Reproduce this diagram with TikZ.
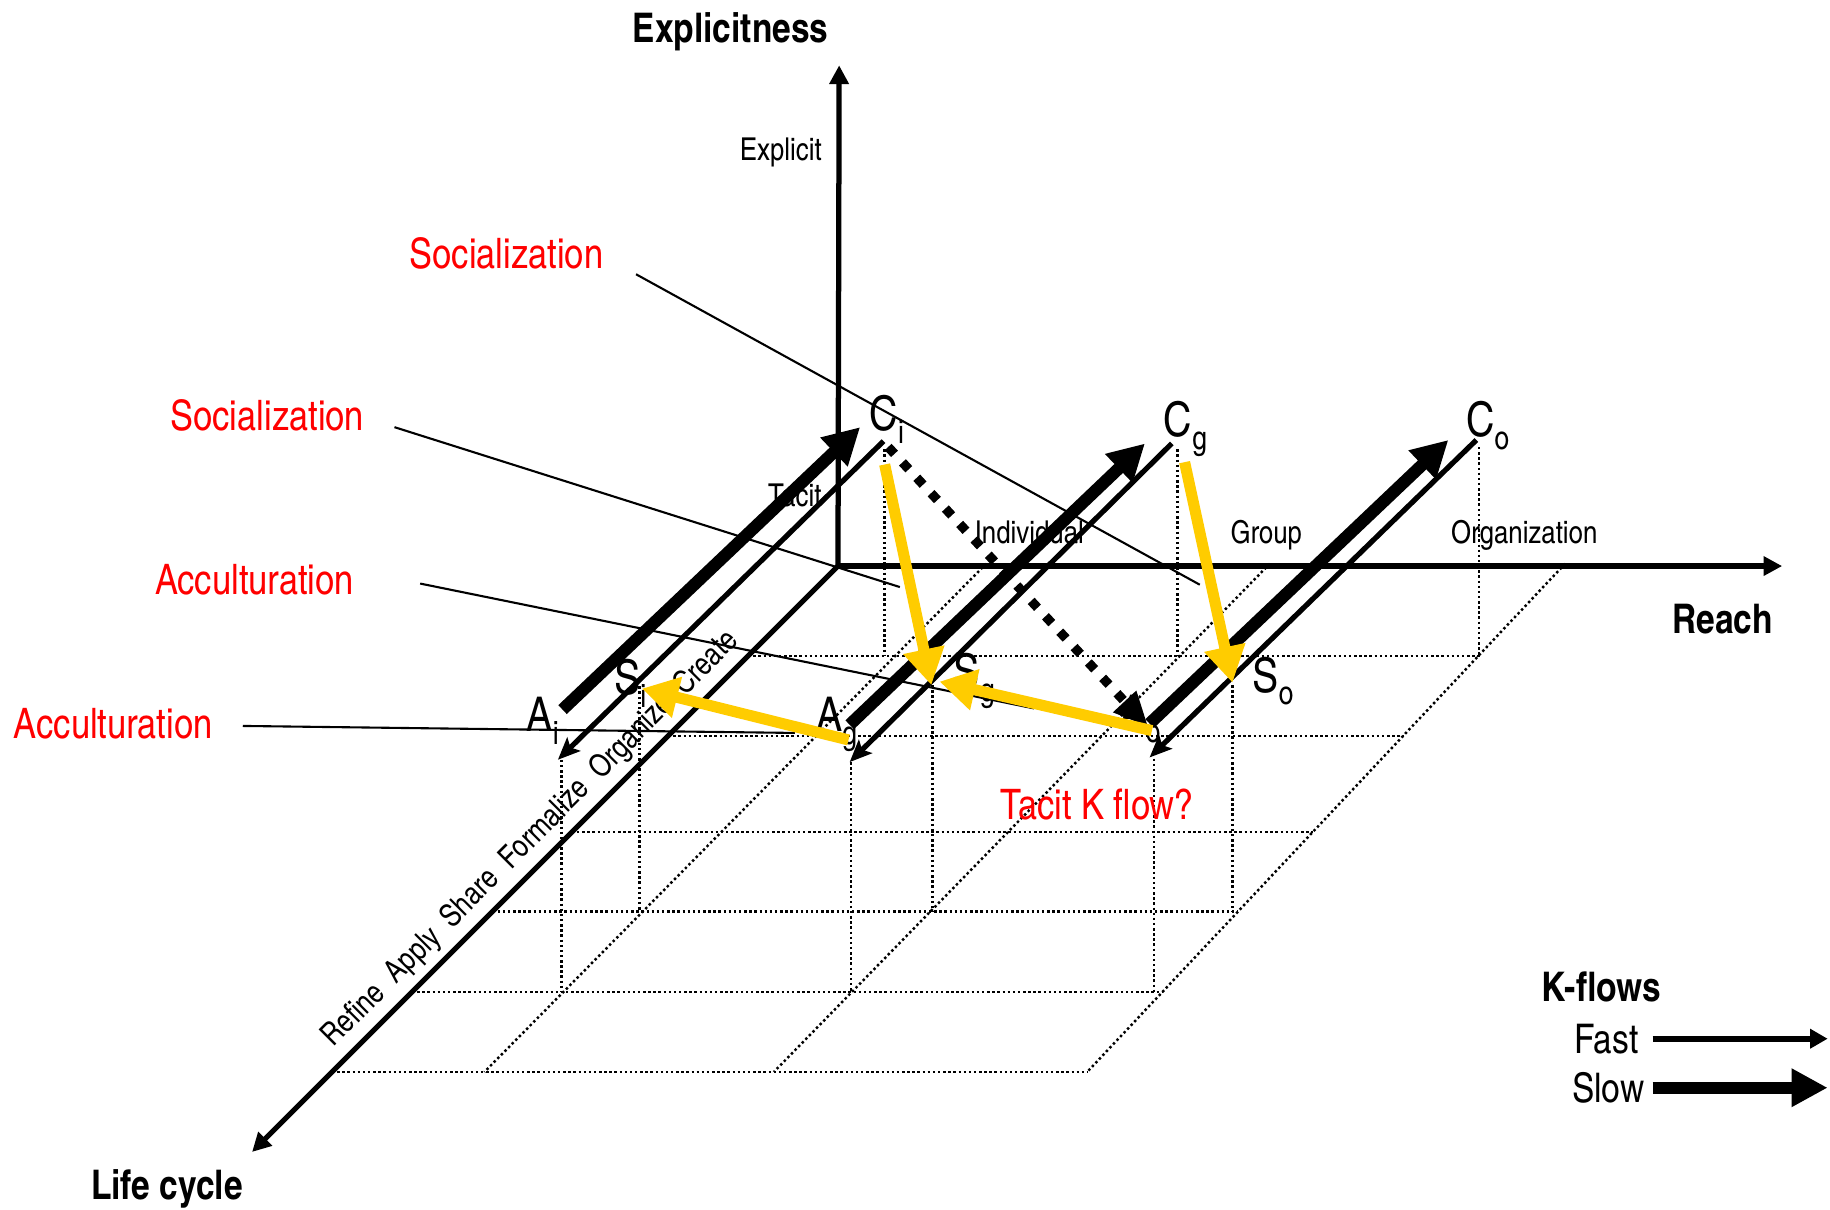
\documentclass[tikz,border=0pt]{standalone}
\usepackage{fontspec}
\setmainfont{texgyreheroscn}[Extension=.otf,UprightFont=*-regular,BoldFont=*-bold]
\usetikzlibrary{arrows.meta}
\definecolor{kred}{RGB}{255,0,0}
\definecolor{kyellow}{RGB}{255,204,0}
\newcommand{\kfsub}[2]{#1\raisebox{-11pt}{\fontsize{28}{28}\selectfont #2}}
\begin{document}
\begin{tikzpicture}[x=1pt,y=-1pt,
  gridline/.style={line width=2.1pt, dash pattern=on 2.1pt off 2.3pt},
  axisline/.style={line width=4.5pt, -{Triangle[length=16pt,width=16pt]}},
  slowarrow/.style={line width=10.5pt, -{Triangle[length=31pt,width=32pt]}},
  fastarrow/.style={line width=4.5pt, -{Stealth[length=19pt,width=16pt,inset=4pt]}},
  yelarrow/.style={draw=kyellow, line width=9.5pt, -{Triangle[length=31pt,width=34pt,fill=kyellow]}},
  dotarrow/.style={line width=8pt, dash pattern=on 8pt off 10pt, -{Triangle[length=30pt,width=25pt]}},
  leader/.style={line width=1.8pt},
  boldlbl/.style={font=\fontsize{35}{40}\selectfont\bfseries, inner sep=0pt, text height=25pt, text depth=0pt},
  axlbl/.style={font=\fontsize{27}{30}\selectfont, inner sep=0pt, text height=19.5pt, text depth=0pt},
  redlbl/.style={font=\fontsize{36}{40}\selectfont, text=kred, inner sep=0pt, text height=26pt, text depth=0pt},
  leglbl/.style={font=\fontsize{35}{40}\selectfont, inner sep=0pt, text height=25pt, text depth=0pt},
  ptlbl/.style={font=\fontsize{41}{44}\selectfont, inner sep=0pt, anchor=base west}
]
\useasboundingbox[fill=white] (0,0) rectangle (1568,1036);

% ---------- floor grid ----------
\foreach \yy/\xr [count=\k] in {562/1268, 630.5/1203, 713/1125, 781/1061, 850/996, 918.5/931.5}{
  \coordinate (rowL\k) at ({718-(\yy-485)},\yy);
  \coordinate (rowR\k) at (\xr,\yy);
  \draw[gridline] (rowL\k) -- (rowR\k);
}
\coordinate (d1a) at (845,483);  \coordinate (d1b) at (415,918.5);
\coordinate (d2a) at (1088,483); \coordinate (d2b) at (663,918.5);
\coordinate (d3a) at (1341,483); \coordinate (d3b) at (931.5,918.5);
\draw[gridline] (d1a) -- (d1b);
\draw[gridline] (d2a) -- (d2b);
\draw[gridline] (d3a) -- (d3b);
% vertical drop lines
\foreach \xx/\ya/\yb [count=\k] in {758/385/562, 1009/385/562, 1267/383/562,
   548/588/781, 799/587/781, 1056/587/781,
   481/651/850, 729/653/850, 989/650/850}{
  \coordinate (vt\k) at (\xx,\ya);
  \coordinate (vb\k) at (\xx,\yb);
  \draw[gridline] (vt\k) -- (vb\k);
}

% ---------- texts ----------
\node[boldlbl] (tExpl) at (626,24) {Explicitness};
\node[axlbl] (tExplicit) at (669,128) {Explicit};
\node[axlbl] (tTacit) at (681,424) {Tacit};
\node[axlbl] (tInd) at (882,456) {Individual};
\node[axlbl] (tGrp) at (1085,456) {Group};
\node[axlbl] (tOrg) at (1306,456) {Organization};
\node[boldlbl] (tReach) at (1476,530) {Reach};
\node[boldlbl] (tLife) at (143,1015) {Life cycle};
\node[boldlbl] (tKf) at (1372,846) {K-flows};
\node[leglbl, anchor=east] (tFast) at (1404,890) {Fast};
\node[leglbl, anchor=east] (tSlow) at (1409,932) {Slow};
\node[redlbl] (rS1) at (434,217) {Socialization};
\node[redlbl] (rS2) at (229,356) {Socialization};
\node[redlbl] (rA1) at (218,496) {Acculturation};
\node[redlbl] (rA2) at (97,620) {Acculturation};
\node[redlbl] (rT) at (940,689) {Tacit K flow?};
\node[axlbl, rotate=45] (tPhases) at (453,717) {Refine\ \ Apply\ \ Share\ \ Formalize\ \ Organize\ \ Create};

\node[ptlbl] (lCi) at (745,369) {\kfsub{C}{i}};
\node[ptlbl] (lCg) at (997,374) {\kfsub{C}{g}};
\node[ptlbl] (lCo) at (1256,374) {\kfsub{C}{o}};
\node[ptlbl] (lSi) at (526,595) {\kfsub{S}{i}};
\node[ptlbl] (lSg) at (817,590) {\kfsub{S}{g}};
\node[ptlbl] (lSo) at (1073,593) {\kfsub{S}{o}};
\node[ptlbl] (lAi) at (451,627) {\kfsub{A}{i}};
\node[ptlbl] (lAg) at (699,627) {\kfsub{A}{g}};
\node[ptlbl] (lAo) at (959,625) {\kfsub{A}{o}};

% ---------- axes ----------
\coordinate (O) at (718,485);
\coordinate (Etip) at (719,56);
\coordinate (Rtip) at (1527,485);
\coordinate (Ltip) at (216,987);
\draw[axisline] (O) -- (Etip);
\draw[axisline] (O) -- (Rtip);
\draw[axisline] (O) -- (Ltip);

% ---------- leader lines ----------
\coordinate (ls1a) at (545,235);  \coordinate (ls1b) at (1028,501);
\coordinate (ls2a) at (338,366);  \coordinate (ls2b) at (771,503);
\coordinate (la1a) at (360,500);  \coordinate (la1b) at (886,607);
\coordinate (la2a) at (208,622);  \coordinate (la2b) at (681,628);
\draw[leader] (ls1a) -- (ls1b);
\draw[leader] (ls2a) -- (ls2b);
\draw[leader] (la1a) -- (la1b);
\draw[leader] (la2a) -- (la2b);

% ---------- K-flow arrows ----------
\coordinate (sAi) at (482,608);  \coordinate (sCi) at (737,366);
\coordinate (sAg) at (728,621);  \coordinate (sCg) at (981,380);
\coordinate (sAo) at (985,620);  \coordinate (sCo) at (1241,377);
\coordinate (fCi) at (757,378);  \coordinate (fAi) at (478,651);
\coordinate (fCg) at (1004,380); \coordinate (fAg) at (728,653);
\coordinate (fCo) at (1265,377); \coordinate (fAo) at (985,649);
\draw[slowarrow] (sAi) -- (sCi);
\draw[slowarrow] (sAg) -- (sCg);
\draw[slowarrow] (sAo) -- (sCo);
\draw[fastarrow] (fCi) -- (fAi);
\draw[fastarrow] (fCg) -- (fAg);
\draw[fastarrow] (fCo) -- (fAo);

% dotted tacit flow
\coordinate (dCi) at (761,383); \coordinate (dAo) at (984,623);
\draw[dotarrow] (dCi) -- (dAo);

% yellow flows
\coordinate (y1a) at (758,398);  \coordinate (y1b) at (798,587);
\coordinate (y2a) at (1015,396); \coordinate (y2b) at (1056,585);
\coordinate (y3a) at (727,634);  \coordinate (y3b) at (550,590);
\coordinate (y4a) at (987,626);  \coordinate (y4b) at (805,584);
\draw[yelarrow] (y1a) -- (y1b);
\draw[yelarrow] (y2a) -- (y2b);
\draw[yelarrow] (y3a) -- (y3b);
\draw[yelarrow] (y4a) -- (y4b);

% ---------- legend ----------
\coordinate (fastA) at (1416,890); \coordinate (fastB) at (1566,890);
\coordinate (slowA) at (1416,932); \coordinate (slowB) at (1566,932);
\draw[line width=5pt, -{Triangle[length=15pt,width=16pt]}] (fastA) -- (fastB);
\draw[line width=10.5pt, -{Triangle[length=31pt,width=31pt]}] (slowA) -- (slowB);
\end{tikzpicture}
\end{document}
